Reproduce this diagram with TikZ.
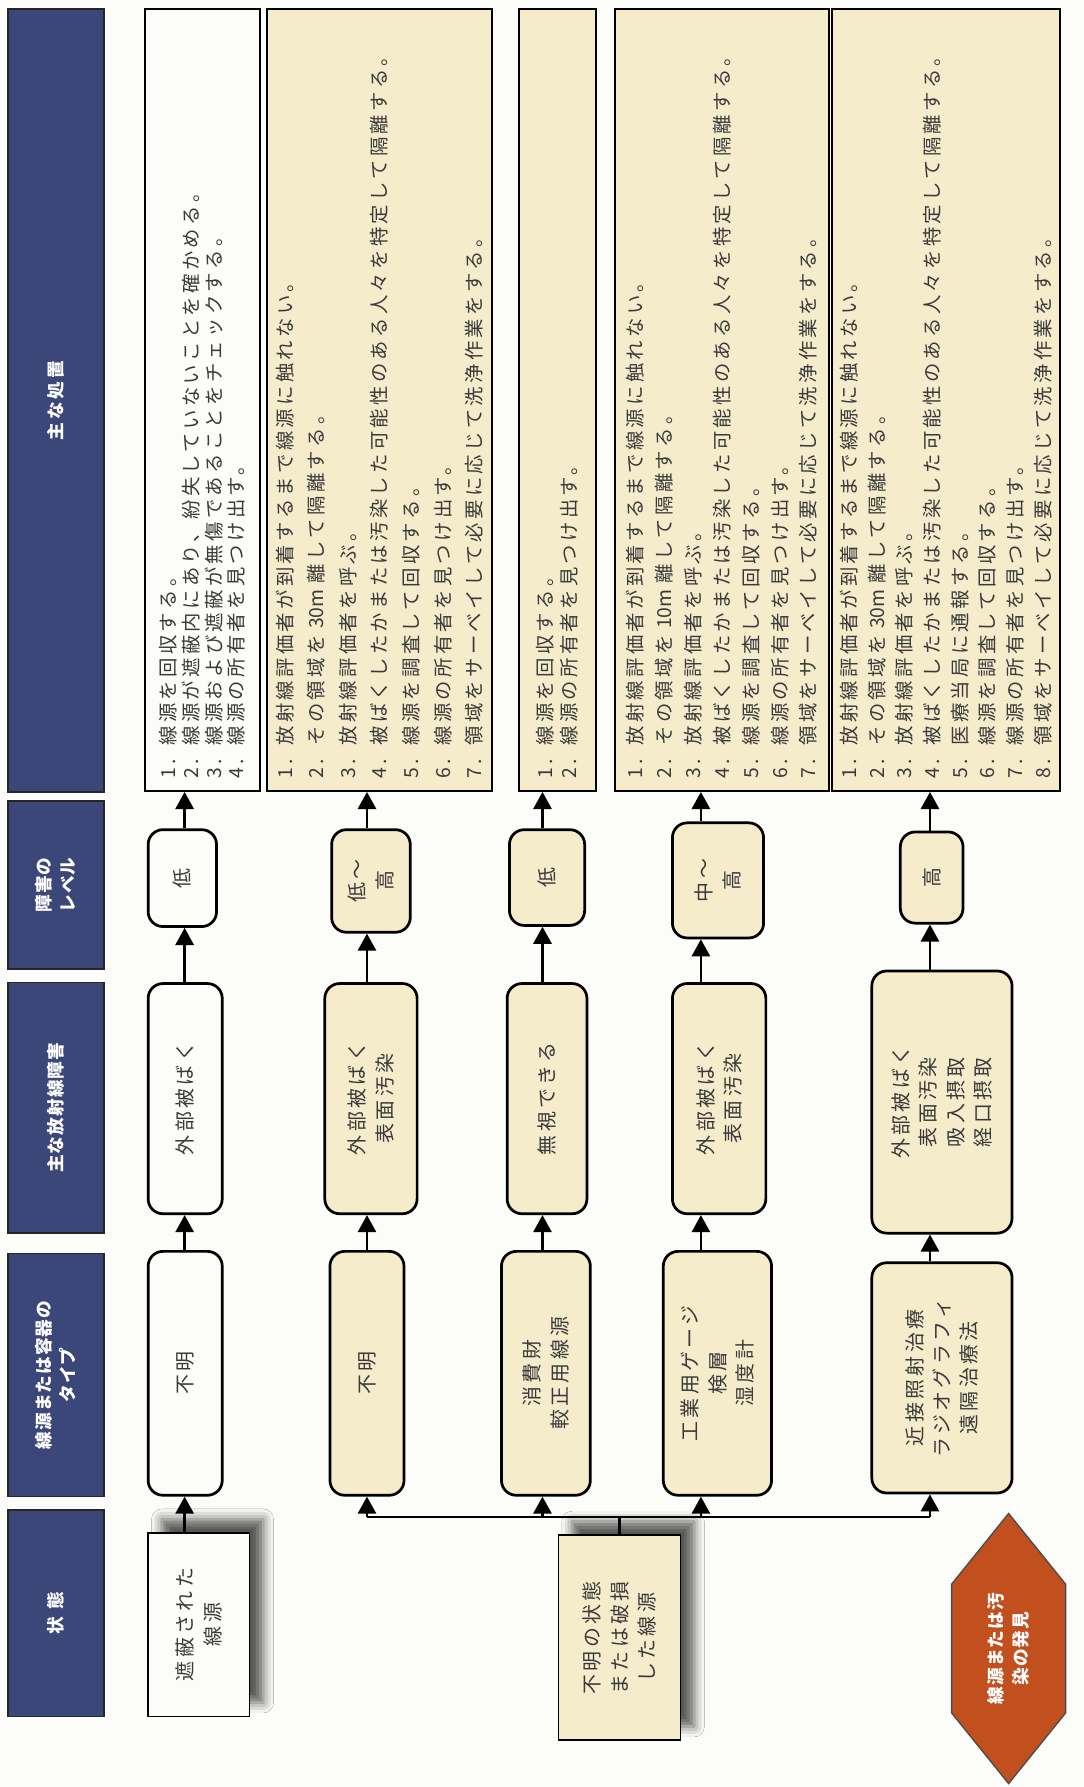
\documentclass[tikz,border=0pt]{standalone}
\usepackage{fontspec}
\setmainfont{Noto Sans CJK JP}
\newfontfamily\jp[LetterSpace=17]{Noto Sans CJK JP}
\newfontfamily\jph[LetterSpace=6]{Noto Sans CJK JP}
\newfontfamily\jpn{Noto Sans CJK JP}
\usetikzlibrary{arrows.meta,shadows.blur}

\definecolor{hdrblue}{HTML}{3C4779}
\definecolor{cream}{HTML}{F5ECCB}
\definecolor{paper}{HTML}{FCFCF8}
\definecolor{alarm}{HTML}{C2501F}
\definecolor{ink}{HTML}{3A3A3A}

% numbered line of an action list
\newcommand{\itm}[2]{\makebox[1.7em][l]{#1.}#2}
\newcommand{\lst}[1]{\jp\fontsize{17}{#1}\selectfont}

\begin{document}
\begin{tikzpicture}[x=1pt,y=-1pt]
	\tikzset{
		hdr/.style={draw=black!85,line width=1.4pt,fill=hdrblue,text=white,
			font=\jph\bfseries\fontsize{15.5}{21}\selectfont,rotate=90,
			minimum height=84pt,align=center,inner sep=0pt},
		box/.style={draw=black,line width=1.8pt,rotate=90,text=ink,
			font=\jp\fontsize{17.5}{24}\selectfont,align=center,inner sep=0pt},
		yel/.style={fill=cream},
		wht/.style={fill=paper},
		todo/.style={box,align=left,minimum width=686pt,text width=664pt},
		rbox/.style={box,line width=2.4pt,rounded corners=13pt},
		state/.style={box,line width=1.4pt,
			blur shadow={shadow xshift=12pt,shadow yshift=12pt,
				shadow blur radius=9pt,shadow opacity=65}},
		arr/.style={line width=2pt,-{Triangle[length=15pt,width=16pt]}},
	}
	
	\fill[paper] (0,0) rectangle (951,1568);
	
	% column heads
	\node[hdr,minimum width=181pt] (h1) at (49,1415.5) {状\hspace{0.4em}態};
	\node[hdr,minimum width=213pt] (h2) at (49,1206.5) {線源または容器の\\タイプ};
	\node[hdr,minimum width=220pt] (h3) at (49,972) {主な放射線障害};
	\node[hdr,minimum width=147pt] (h4) at (49,776.5) {障害の\\レベル};
	\node[hdr,minimum width=687pt,font=\jp\bfseries\fontsize{15.5}{21}\selectfont] (h5) at (49,351.5) {主な処置};
	
	% actions
	\node[todo,wht,minimum height=101pt,font=\lst{20}] (a1) at (177.5,351) {
		\itm{1}{線源を回収する。}\\
		\itm{2}{線源が遮蔽内にあり、紛失していないことを確かめる。}\\
		\itm{3}{線源および遮蔽が無傷であることをチェックする。}\\
		\itm{4}{線源の所有者を見つけ出す。}};
	\node[todo,yel,minimum height=198pt,font=\lst{27.7}] (a2) at (333,351) {
		\itm{1}{放射線評価者が到着するまで線源に触れない。}\\
		\itm{2}{その領域を {\jpn 30m} 離して隔離する。}\\
		\itm{3}{放射線評価者を呼ぶ。}\\
		\itm{4}{被ばくしたかまたは汚染した可能性のある人々を特定して隔離する。}\\
		\itm{5}{線源を調査して回収する。}\\
		\itm{6}{線源の所有者を見つけ出す。}\\
		\itm{7}{領域をサーベイして必要に応じて洗浄作業をする。}};
	\node[todo,yel,minimum height=68pt,font=\lst{21}] (a3) at (489,351) {
		\itm{1}{線源を回収する。}\\
		\itm{2}{線源の所有者を見つけ出す。}};
	\node[todo,yel,minimum height=187pt,font=\lst{25.3}] (a4) at (633.5,351) {
		\itm{1}{放射線評価者が到着するまで線源に触れない。}\\
		\itm{2}{その領域を {\jpn 10m} 離して隔離する。}\\
		\itm{3}{放射線評価者を呼ぶ。}\\
		\itm{4}{被ばくしたかまたは汚染した可能性のある人々を特定して隔離する。}\\
		\itm{5}{線源を調査して回収する。}\\
		\itm{6}{線源の所有者を見つけ出す。}\\
		\itm{7}{領域をサーベイして必要に応じて洗浄作業をする。}};
	\node[todo,yel,minimum height=200pt,font=\lst{24.3}] (a5) at (830,351) {
		\itm{1}{放射線評価者が到着するまで線源に触れない。}\\
		\itm{2}{その領域を {\jpn 30m} 離して隔離する。}\\
		\itm{3}{放射線評価者を呼ぶ。}\\
		\itm{4}{被ばくしたかまたは汚染した可能性のある人々を特定して隔離する。}\\
		\itm{5}{医療当局に通報する。}\\
		\itm{6}{線源を調査して回収する。}\\
		\itm{7}{線源の所有者を見つけ出す。}\\
		\itm{8}{領域をサーベイして必要に応じて洗浄作業をする。}};
	
	% levels
	\node[rbox,wht,minimum width=85pt,minimum height=60pt] (l1) at (160,770.5) {低};
	\node[rbox,yel,minimum width=90pt,minimum height=69pt] (l2) at (325.5,773) {低～\\高};
	\node[rbox,yel,minimum width=84pt,minimum height=66pt] (l3) at (480,770) {低};
	\node[rbox,yel,minimum width=101pt,minimum height=80pt] (l4) at (630,772.5) {中～\\高};
	\node[rbox,yel,minimum width=80pt,minimum height=55pt] (l5) at (817.5,770) {高};
	
	% hazards
	\node[rbox,wht,minimum width=202pt,minimum height=65pt] (z1) at (162.5,964) {外部被ばく};
	\node[rbox,yel,minimum width=202pt,minimum height=81pt] (z2) at (325.5,964) {外部被ばく\\表面汚染};
	\node[rbox,yel,minimum width=202pt,minimum height=70pt] (z3) at (480,964) {無視できる};
	\node[rbox,yel,minimum width=202pt,minimum height=82pt] (z4) at (631,964) {外部被ばく\\表面汚染};
	\node[rbox,yel,minimum width=230pt,minimum height=123pt] (z5) at (826.5,967) {外部被ばく\\表面汚染\\吸入摂取\\経口摂取};
	
	% sources
	\node[rbox,wht,minimum width=214pt,minimum height=65pt] (t1) at (162.5,1205) {不明};
	\node[rbox,yel,minimum width=214pt,minimum height=65pt] (t2) at (322,1205) {不明};
	\node[rbox,yel,minimum width=214pt,minimum height=78pt] (t3) at (479,1205) {消費財\\較正用線源};
	\node[rbox,yel,minimum width=214pt,minimum height=95pt] (t4) at (629.5,1205) {工業用ゲージ\\検層\\湿度計};
	\node[rbox,yel,minimum width=202pt,minimum height=123pt] (t5) at (826.5,1209) {近接照射治療\\ラジオグラフィ\\遠隔治療法};
	
	% states
	\node[state,wht,minimum width=161pt,minimum height=89pt] (s1) at (174.5,1425.5) {遮蔽された\\線源};
	\node[state,yel,minimum width=180pt,minimum height=107pt] (s2) at (543.5,1437) {不明の状態\\または破損\\した線源};
	\draw[fill=alarm,draw=black!70,line width=1.2pt] (885,1328) -- (935,1390) -- (935,1503)
		-- (885,1565) -- (835,1503) -- (835,1390) -- cycle;
	\node[rotate=90,text=white,align=center,font=\jph\bfseries\fontsize{15.5}{22}\selectfont] (find) at (885,1446.5) {線源または汚\\染の発見};
	
	% row lines
	\coordinate (r1) at (162,0);
	\coordinate (r2) at (322,0);
	\coordinate (r3) at (476,0);
	\coordinate (r4) at (615,0);
	\coordinate (r5) at (816,0);
	\coordinate (bar) at (543.5,1331);
	
	\draw[arr] (r1 |- s1.east) -- (r1 |- t1.west);
	\draw[line width=2pt] (s2.east) -- (bar);
	\draw[line width=2pt] (r2 |- bar) -- (r5 |- bar);
	\draw[arr] (r2 |- bar) -- (r2 |- t2.west);
	\draw[arr] (r3 |- bar) -- (r3 |- t3.west);
	\draw[arr] (r4 |- bar) -- (r4 |- t4.west);
	\draw[arr] (r5 |- bar) -- (r5 |- t5.west);
	
	\foreach \i in {1,...,5}{
		\draw[arr] (r\i |- t\i.east) -- (r\i |- z\i.west);
		\draw[arr] (r\i |- z\i.east) -- (r\i |- l\i.west);
		\draw[arr] (r\i |- l\i.east) -- (r\i |- a\i.west);
	}
\end{tikzpicture}
\end{document}
